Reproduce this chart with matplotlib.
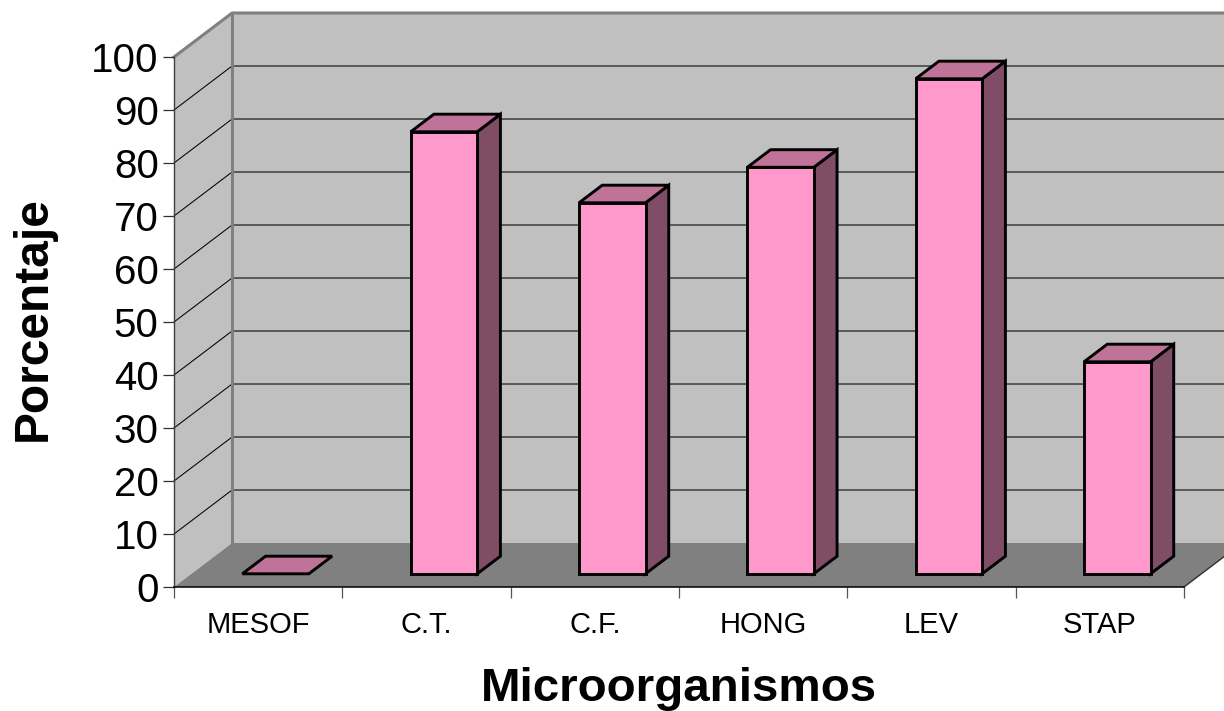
import matplotlib
matplotlib.use('Agg')
import matplotlib.pyplot as plt
from matplotlib.patches import Polygon

plt.rcParams['font.family'] = ['Liberation Sans', 'DejaVu Sans']

# values
categories = ['MESOF', 'C.T.', 'C.F.', 'HONG', 'LEV', 'STAP']
percent = [0, 83.4, 70, 76.7, 93.4, 40]
y_ticks = list(range(0, 101, 10))

# colours of the old 3d column look
wall_color = '#C0C0C0'
floor_color = '#808080'
front_color = '#FF99CC'
top_color = '#BF7399'
side_color = '#804D66'

# how far the back of the box is shifted, in data units
depth_x = 0.345
depth_y = 8.3
bar_width = 0.395
bar_d0 = 0.3
bar_d1 = 0.7


def shift(x, y, d):
    # move a point of the front plane d of the way to the back wall
    return (x + d * depth_x, y + d * depth_y)


def face(ax, points, color, edge='none', lw=0, z=1):
    ax.add_patch(Polygon([shift(*p) for p in points], closed=True, facecolor=color,
                         edgecolor=edge, linewidth=lw, joinstyle='miter',
                         clip_on=False, zorder=z))


fig = plt.figure(figsize=(12.24, 7.11), dpi=100)
ax = fig.add_axes([174 / 1224, (711 - 587) / 711, 1010 / 1224, 530 / 711])
ax.patch.set_visible(False)
n = len(categories)
ax.set_xlim(0, n)
ax.set_ylim(0, 100)

# walls and floor
face(ax, [(0, 0, 1), (n, 0, 1), (n, 100, 1), (0, 100, 1)], wall_color)
face(ax, [(0, 0, 0), (0, 0, 1), (0, 100, 1), (0, 100, 0)], wall_color)
face(ax, [(0, 0, 0), (n, 0, 0), (n, 0, 1), (0, 0, 1)], floor_color, z=1.2)

# gridlines on the side wall and back wall
for t in y_ticks[1:-1]:
    xs, ys = zip(shift(0, t, 0), shift(0, t, 1), shift(n, t, 1))
    ax.plot(xs, ys, color='black', lw=0.75, clip_on=False, zorder=1.1)

# grey outline of the walls
xs, ys = zip(shift(0, 100, 0), shift(0, 100, 1), shift(n, 100, 1))
ax.plot(xs, ys, color=floor_color, lw=2.2, clip_on=False, zorder=1.3)
xs, ys = zip(shift(0, 0, 1), shift(0, 100, 1))
ax.plot(xs, ys, color=floor_color, lw=2.2, clip_on=False, zorder=1.3)
xs, ys = zip(shift(n, 0, 0), shift(n, 0, 1))
ax.plot(xs, ys, color='#303030', lw=1, clip_on=False, zorder=1.3)

# bars
for i, v in enumerate(percent):
    x0 = i + 0.5 - bar_width / 2
    x1 = x0 + bar_width
    z = 3 + i * 0.1
    if v > 0:
        face(ax, [(x1, 0, bar_d0), (x1, 0, bar_d1), (x1, v, bar_d1), (x1, v, bar_d0)],
             side_color, 'black', 2.1, z)
        face(ax, [(x0, 0, bar_d0), (x1, 0, bar_d0), (x1, v, bar_d0), (x0, v, bar_d0)],
             front_color, 'black', 2.1, z)
    face(ax, [(x0, v, bar_d0), (x1, v, bar_d0), (x1, v, bar_d1), (x0, v, bar_d1)],
         top_color, 'black', 2.1, z)

for s in ['top', 'right']:
    ax.spines[s].set_visible(False)
ax.spines['left'].set_color('#404040')
ax.spines['left'].set_linewidth(1)
ax.spines['bottom'].set_color('black')
ax.spines['bottom'].set_linewidth(1.1)
ax.spines['left'].set_zorder(5)
ax.spines['bottom'].set_zorder(5)

ax.set_yticks(y_ticks)
ax.tick_params(axis='y', length=8, width=0.9, color='#303030', labelsize=29, pad=3)
ax.set_xticks(range(n + 1))
ax.set_xticklabels([])
ax.tick_params(axis='x', which='major', length=8, width=0.9, color='#555555')
ax.set_xticks([i + 0.5 for i in range(n)], minor=True)
ax.set_xticklabels(categories, minor=True)
ax.tick_params(axis='x', which='minor', length=0, labelsize=21, pad=17)

ax.set_xlabel('Microorganismos', fontsize=34.2, fontweight='bold')
ax.xaxis.set_label_coords(0.5, -(689 - 587) / 530, transform=ax.transAxes)
ax.xaxis.label.set_verticalalignment('center')
ax.set_ylabel('Porcentaje', fontsize=34.5, fontweight='bold')
ax.yaxis.set_label_coords(-(174 - 33) / 1010, 0.507, transform=ax.transAxes)
ax.yaxis.label.set_verticalalignment('center')

fig.savefig('out.png', dpi=100)
